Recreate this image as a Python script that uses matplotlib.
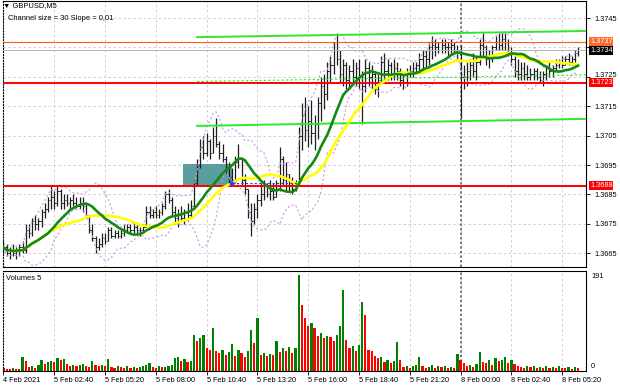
import numpy as np
import pandas as pd
import matplotlib.pyplot as plt
import matplotlib.transforms as mtransforms
from matplotlib.patches import Rectangle

plt.rcParams['font.family'] = ['Liberation Sans', 'DejaVu Sans']

# GBPUSD, bars resampled to 10 minutes (bar index 0 = 5 Feb 00:00)
high = [1.3669, 1.3668, 1.3667, 1.3668, 1.3667, 1.3668, 1.3669, 1.3675, 1.3675, 1.3677,
        1.3678, 1.3677, 1.3680, 1.3682, 1.3684, 1.3688, 1.3686, 1.3688, 1.3687, 1.3685,
        1.3685, 1.3684, 1.3685, 1.3684, 1.3684, 1.3684, 1.3682, 1.3678, 1.3675, 1.3671,
        1.3670, 1.3672, 1.3672, 1.3674, 1.3674, 1.3673, 1.3673, 1.3673, 1.3675, 1.3675,
        1.3675, 1.3675, 1.3675, 1.3674, 1.3675, 1.3681, 1.3681, 1.3680, 1.3681, 1.3680,
        1.3682, 1.3686, 1.3687, 1.3684, 1.3681, 1.3680, 1.3681, 1.3680, 1.3682, 1.3683,
        1.3690, 1.3697, 1.3704, 1.3705, 1.3706, 1.3704, 1.3708, 1.3711, 1.3703, 1.3702,
        1.3698, 1.3696, 1.3694, 1.3698, 1.3702, 1.3697, 1.3692, 1.3687, 1.3682, 1.3682,
        1.3685, 1.3689, 1.3690, 1.3689, 1.3690, 1.3689, 1.3690, 1.3701, 1.3698, 1.3696,
        1.3692, 1.3691, 1.3690, 1.3708, 1.3716, 1.3718, 1.3715, 1.3717, 1.3712, 1.3718,
        1.3725, 1.3726, 1.3730, 1.3732, 1.3737, 1.3740, 1.3734, 1.3731, 1.3730, 1.3729,
        1.3731, 1.3730, 1.3731, 1.3727, 1.3731, 1.3730, 1.3729, 1.3727, 1.3726, 1.3732,
        1.3733, 1.3731, 1.3730, 1.3731, 1.3730, 1.3728, 1.3727, 1.3728, 1.3729, 1.3730,
        1.3730, 1.3733, 1.3734, 1.3734, 1.3737, 1.3739, 1.3738, 1.3737, 1.3738, 1.3738,
        1.3737, 1.3738, 1.3737, 1.3736, 1.3736, 1.3729, 1.3730, 1.3731, 1.3733, 1.3732,
        1.3738, 1.3740, 1.3736, 1.3734, 1.3736, 1.3739, 1.3740, 1.3740, 1.3740, 1.3738,
        1.3735, 1.3732, 1.3731, 1.3730, 1.3730, 1.3729, 1.3728, 1.3728, 1.3728, 1.3727,
        1.3727, 1.3729, 1.3730, 1.3729, 1.3731, 1.3731, 1.3732, 1.3732, 1.3733, 1.3732,
        1.3734, 1.3735]
low = [1.3665, 1.3664, 1.3663, 1.3664, 1.3663, 1.3664, 1.3665, 1.3665, 1.3670, 1.3671,
       1.3673, 1.3673, 1.3674, 1.3677, 1.3679, 1.3680, 1.3680, 1.3681, 1.3680, 1.3680,
       1.3681, 1.3680, 1.3681, 1.3680, 1.3680, 1.3679, 1.3677, 1.3672, 1.3669, 1.3665,
       1.3666, 1.3667, 1.3668, 1.3669, 1.3670, 1.3670, 1.3670, 1.3670, 1.3671, 1.3672,
       1.3672, 1.3672, 1.3672, 1.3671, 1.3672, 1.3674, 1.3677, 1.3677, 1.3677, 1.3677,
       1.3678, 1.3680, 1.3682, 1.3678, 1.3675, 1.3674, 1.3676, 1.3675, 1.3676, 1.3677,
       1.3680, 1.3688, 1.3694, 1.3697, 1.3698, 1.3697, 1.3699, 1.3701, 1.3697, 1.3696,
       1.3692, 1.3689, 1.3688, 1.3689, 1.3694, 1.3688, 1.3685, 1.3677, 1.3671, 1.3675,
       1.3677, 1.3681, 1.3683, 1.3684, 1.3683, 1.3683, 1.3684, 1.3686, 1.3688, 1.3686,
       1.3686, 1.3685, 1.3686, 1.3688, 1.3700, 1.3703, 1.3701, 1.3702, 1.3700, 1.3704,
       1.3710, 1.3714, 1.3717, 1.3723, 1.3726, 1.3729, 1.3723, 1.3722, 1.3721, 1.3721,
       1.3723, 1.3722, 1.3721, 1.3709, 1.3720, 1.3722, 1.3721, 1.3719, 1.3718, 1.3723,
       1.3724, 1.3724, 1.3724, 1.3724, 1.3724, 1.3722, 1.3721, 1.3722, 1.3725, 1.3725,
       1.3726, 1.3727, 1.3727, 1.3728, 1.3729, 1.3731, 1.3732, 1.3733, 1.3733, 1.3733,
       1.3732, 1.3733, 1.3733, 1.3731, 1.3711, 1.3721, 1.3722, 1.3724, 1.3725, 1.3724,
       1.3729, 1.3732, 1.3729, 1.3728, 1.3730, 1.3734, 1.3734, 1.3734, 1.3734, 1.3732,
       1.3729, 1.3725, 1.3724, 1.3724, 1.3724, 1.3724, 1.3724, 1.3724, 1.3724, 1.3723,
       1.3722, 1.3724, 1.3725, 1.3725, 1.3727, 1.3728, 1.3728, 1.3729, 1.3729, 1.3729,
       1.3730, 1.3732]
close = [1.3667, 1.3665, 1.3666, 1.3665, 1.3666, 1.3667, 1.3666, 1.3673, 1.3672, 1.3676,
         1.3675, 1.3676, 1.3679, 1.3680, 1.3683, 1.3684, 1.3682, 1.3686, 1.3682, 1.3683,
         1.3682, 1.3683, 1.3682, 1.3681, 1.3682, 1.3681, 1.3678, 1.3673, 1.3670, 1.3667,
         1.3668, 1.3670, 1.3669, 1.3673, 1.3671, 1.3672, 1.3671, 1.3672, 1.3673, 1.3674,
         1.3673, 1.3674, 1.3673, 1.3673, 1.3674, 1.3679, 1.3678, 1.3679, 1.3678, 1.3679,
         1.3681, 1.3685, 1.3683, 1.3679, 1.3677, 1.3678, 1.3677, 1.3679, 1.3678, 1.3681,
         1.3689, 1.3695, 1.3701, 1.3699, 1.3703, 1.3699, 1.3705, 1.3702, 1.3699, 1.3697,
         1.3694, 1.3691, 1.3690, 1.3696, 1.3697, 1.3690, 1.3687, 1.3679, 1.3676, 1.3680,
         1.3683, 1.3685, 1.3688, 1.3685, 1.3686, 1.3684, 1.3688, 1.3697, 1.3690, 1.3692,
         1.3688, 1.3687, 1.3689, 1.3705, 1.3712, 1.3707, 1.3710, 1.3706, 1.3709, 1.3716,
         1.3722, 1.3719, 1.3727, 1.3729, 1.3734, 1.3731, 1.3726, 1.3729, 1.3724, 1.3727,
         1.3725, 1.3728, 1.3723, 1.3722, 1.3728, 1.3725, 1.3726, 1.3721, 1.3724, 1.3730,
         1.3727, 1.3729, 1.3726, 1.3728, 1.3727, 1.3724, 1.3723, 1.3726, 1.3727, 1.3728,
         1.3729, 1.3731, 1.3732, 1.3731, 1.3735, 1.3736, 1.3735, 1.3734, 1.3736, 1.3735,
         1.3735, 1.3736, 1.3734, 1.3733, 1.3725, 1.3725, 1.3727, 1.3729, 1.3727, 1.3730,
         1.3736, 1.3735, 1.3731, 1.3732, 1.3735, 1.3737, 1.3736, 1.3738, 1.3737, 1.3733,
         1.3731, 1.3727, 1.3726, 1.3728, 1.3726, 1.3725, 1.3726, 1.3727, 1.3725, 1.3724,
         1.3726, 1.3728, 1.3727, 1.3728, 1.3729, 1.3730, 1.3729, 1.3731, 1.3730, 1.3731,
         1.3733, 1.3734]
first_open = 1.3666

volume = [6, 4, 3, 5, 4, 3, 27, 20, 8, 10,
          6, 12, 22, 14, 17, 20, 18, 26, 21, 23,
          14, 10, 12, 9, 11, 13, 10, 8, 20, 11,
          9, 12, 10, 24, 8, 6, 10, 7, 5, 9,
          6, 8, 5, 7, 10, 11, 15, 8, 6, 9,
          7, 8, 10, 12, 25, 28, 20, 24, 18, 19,
          72, 60, 66, 72, 45, 42, 86, 40, 36, 42,
          32, 38, 54, 30, 42, 35, 28, 40, 81, 55,
          105, 32, 36, 30, 34, 31, 60, 38, 46, 40,
          48, 35, 45, 191, 131, 105, 90, 95, 85, 70,
          75, 65, 70, 68, 60, 72, 90, 161, 62, 45,
          50, 40, 52, 138, 111, 42, 40, 30, 25, 28,
          18, 22, 15, 20, 58, 22, 8, 10, 6, 9,
          12, 28, 10, 6, 8, 12, 5, 9, 7, 10,
          6, 8, 5, 33, 22, 15, 10, 12, 8, 14,
          37, 18, 15, 22, 12, 25, 20, 22, 28, 15,
          22, 14, 10, 8, 6, 9, 7, 10, 6, 8,
          5, 9, 6, 8, 5, 10, 6, 5, 8, 4,
          7, 5]

time_labels = ['4 Feb 2021', '5 Feb 02:40', '5 Feb 05:20', '5 Feb 08:00', '5 Feb 10:40',
               '5 Feb 13:20', '5 Feb 16:00', '5 Feb 18:40', '5 Feb 21:20', '8 Feb 00:00',
               '8 Feb 02:40', '8 Feb 05:20']
label_step = 16          # bars between time labels
day_break = 144          # 8 Feb 00:00

resistance = 1.3737
support_levels = [1.3723, 1.3688]
bid = 1.3734
channel_start = 61
channel_top = (1.37385, 1.37406)
channel_bottom = (1.37083, 1.37107)
entry_box = (56.7, 72.1, 1.3688, 1.36955)   # bar from, bar to, price low, price high
trade = (72, 92.5, 1.3689)
vol_max = 191


def fx(px):
    return px / 620


def fy(py):
    return 1 - py / 388


n = len(close)
x = np.arange(n)
close_s = pd.Series(close)
opens = close_s.shift(1).fillna(first_open).to_numpy()

# indicators
ma_fast = close_s.rolling(15, min_periods=1).mean()
ma_slow = close_s.rolling(25, min_periods=1).mean()
bb_mid = close_s.rolling(10, min_periods=1).mean()
bb_std = close_s.rolling(10, min_periods=2).std(ddof=0).fillna(0)
bb_up = bb_mid + 2 * bb_std
bb_dn = bb_mid - 2 * bb_std

fig = plt.figure(figsize=(6.2, 3.88), dpi=100)
ax = fig.add_axes([fx(3), fy(267), fx(583), 266 / 388])
axv = fig.add_axes([fx(3), fy(371), fx(583), 100 / 388])

x_end = 183.5
ax.set_xlim(-0.15, x_end)
ax.set_ylim(1.36603, 1.37508)

grid_kw = dict(color='#c8c8c8', linestyle=(0, (3, 3)), linewidth=0.6)
price_ticks = np.arange(1.3665, 1.37501, 0.001)
ax.set_yticks(price_ticks)
# 1.3735 sits under the bid label box, as in the terminal
ax.set_yticklabels(['' if abs(v - 1.3735) < 1e-6 else f'{v:.4f}' for v in price_ticks])
ax.set_xticks(np.arange(0, n, label_step))
ax.grid(True, **grid_kw)
ax.set_axisbelow(True)
ax.yaxis.tick_right()
ax.tick_params(axis='y', labelsize=5.3, length=3, width=0.6, pad=3)
ax.tick_params(axis='x', length=0, labelbottom=False)
# nudge 1.3725 up a little so the 1.3723 box does not cover it
lift = mtransforms.ScaledTranslation(0, 2 / 100, fig.dpi_scale_trans)
for v, lbl in zip(price_ticks, ax.get_yticklabels()):
    if abs(v - 1.3725) < 1e-6:
        lbl.set_transform(lbl.get_transform() + lift)
for side in ['top', 'right', 'bottom']:
    ax.spines[side].set_linewidth(0.8)
ax.spines['left'].set_linestyle(':')

# entry zone
ax.add_patch(Rectangle((entry_box[0], entry_box[2]), entry_box[1] - entry_box[0],
                       entry_box[3] - entry_box[2], facecolor='#5b9ea0', edgecolor='none', zorder=1))

# bars
ax.vlines(x, low, high, color='#1e1e1e', linewidth=0.9, zorder=2)
ax.hlines(opens, x - 0.45, x, color='#1e1e1e', linewidth=0.7, zorder=2)
ax.hlines(close, x, x + 0.45, color='#1e1e1e', linewidth=0.7, zorder=2)

# bands and averages
ax.plot(x, bb_up, color='#c79be8', linestyle=(0, (2, 2)), linewidth=0.8, zorder=3)
ax.plot(x, bb_dn, color='#c79be8', linestyle=(0, (2, 2)), linewidth=0.8, zorder=3)
ax.plot(x, ma_slow, color='#ffff00', linewidth=1.9, zorder=4)
ax.plot(x, ma_fast, color='#138a13', linewidth=1.9, zorder=5)

# levels
ax.axhline(bid, color='#b4b4b4', linewidth=0.7, zorder=3)
ax.axhline(resistance, color='#ff5a1f', linewidth=0.8, zorder=3)
for lvl in support_levels:
    ax.axhline(lvl, color='#ff0000', linewidth=1.4, zorder=3)

# channel
cx = [channel_start, x_end]
ax.plot(cx, channel_top, color='#2ee82e', linewidth=1.4, zorder=3)
ax.plot(cx, channel_bottom, color='#2ee82e', linewidth=1.4, zorder=3)
ax.plot(cx, [(channel_top[0] + channel_bottom[0]) / 2, (channel_top[1] + channel_bottom[1]) / 2],
        color='#2ee82e', linestyle=(0, (2, 2)), linewidth=0.8, zorder=3)

# trade
ax.plot([trade[0], trade[1]], [trade[2], trade[2]], color='#2040ff', linestyle=(0, (2, 2)),
        linewidth=0.8, zorder=6)
ax.plot(trade[0], trade[2], marker='>', markersize=3, color='#2040ff', zorder=6)

ax.axvline(day_break, color='#555555', linestyle=(0, (1.5, 1.5)), linewidth=1.1, zorder=1)

# volumes
vol = np.array(volume)
vol_colors = ['#008000' if i > 0 and vol[i] > vol[i - 1] else '#ff0000' for i in range(n)]
axv.bar(x, vol, width=0.7, color=vol_colors, zorder=2)
axv.set_xlim(-0.15, x_end)
axv.set_ylim(0, 199)
axv.set_yticks([])
axv.set_xticks(np.arange(0, n, label_step))
axv.set_xticklabels(time_labels)
for lbl in axv.get_xticklabels():
    lbl.set_horizontalalignment('left')
axv.tick_params(axis='x', labelsize=5.3, length=3, width=0.6, pad=1.5)
axv.grid(True, axis='x', **grid_kw)
axv.set_axisbelow(True)
axv.axvline(day_break, color='#555555', linestyle=(0, (1.5, 1.5)), linewidth=1.1, zorder=1)
for side in ['top', 'right', 'bottom']:
    axv.spines[side].set_linewidth(0.8)
axv.spines['left'].set_linestyle(':')

# texts
fig.text(fx(3), fy(6), '\u25bc GBPUSD,M5', fontsize=5.4, va='center', ha='left')
fig.text(fx(8), fy(19), 'Channel size = 30 Slope = 0,01', fontsize=5.4, va='center', ha='left')
fig.text(fx(6), fy(278), 'Volumes 5', fontsize=5.4, va='center', ha='left')
fig.text(fx(591), fy(276), str(vol_max), fontsize=5.3, va='center', ha='left')
fig.text(fx(591), fy(366), '0', fontsize=5.3, va='center', ha='left')

box_labels = [(resistance, '#ff6a2a'), (bid, '#000000'),
              (support_levels[0], '#ff0000'), (support_levels[1], '#ff0000')]
for price, col in box_labels:
    ty = ax.transData.transform((0, price))[1]
    fig.text(fx(590), ty / fig.dpi / 3.88, f'{price:.4f}', fontsize=5.3, va='center', ha='left',
             color='white', bbox=dict(boxstyle='square,pad=0.1', facecolor=col, edgecolor='none'))

fig.savefig('out.png', dpi=100)
